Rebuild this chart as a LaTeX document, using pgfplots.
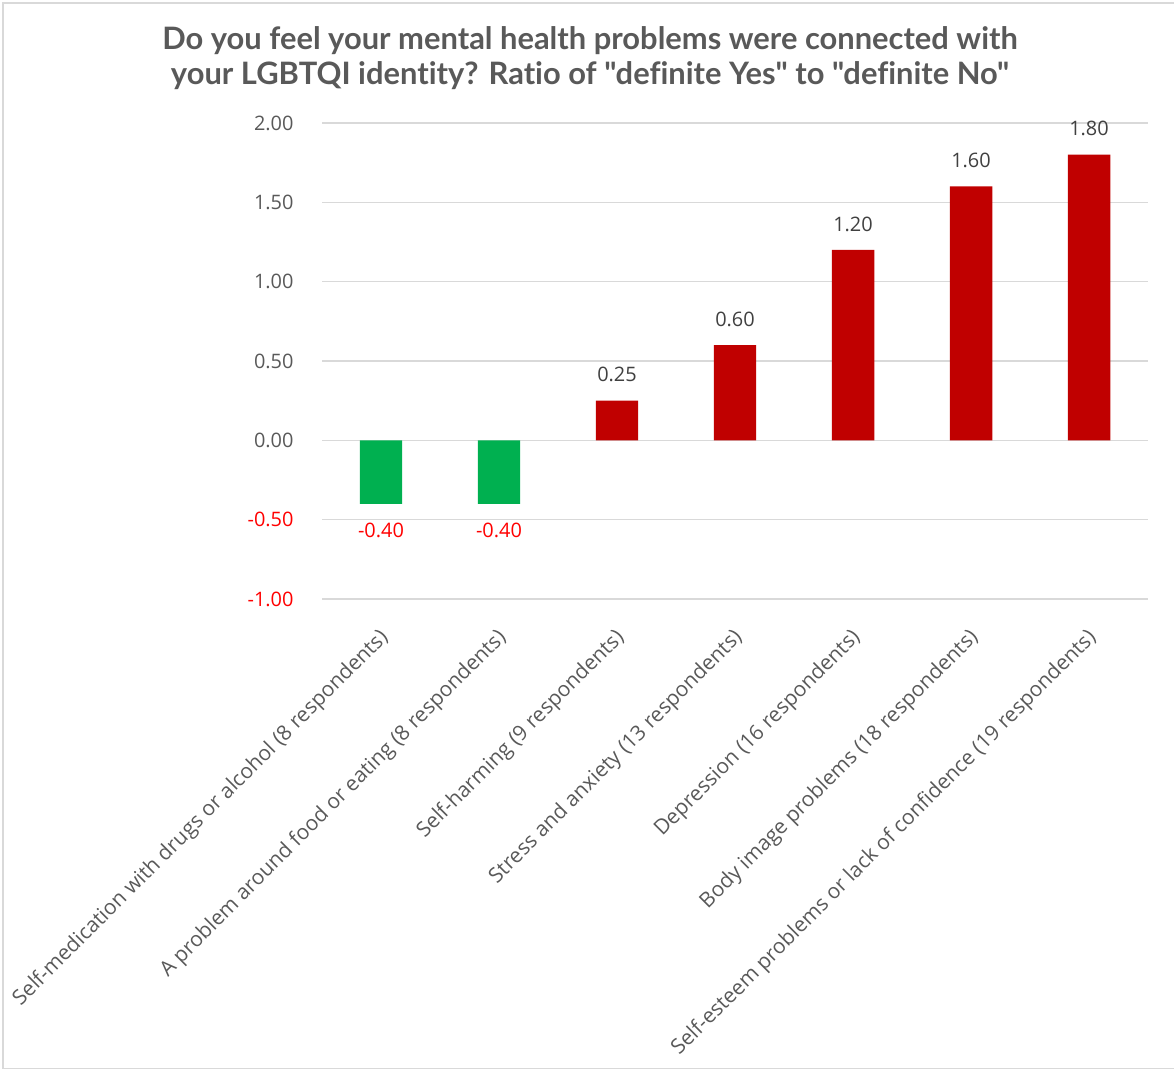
\documentclass[border=0pt]{standalone}
\usepackage{pgfplots}
\pgfplotsset{compat=1.18}
\usepackage{fontspec}
\setmainfont{Open Sans}
\newfontfamily\titlefont{Lato}[Ligatures=NoCommon]
\definecolor{txtgrey}{HTML}{595959}
\definecolor{lblgrey}{HTML}{404040}
\definecolor{barred}{HTML}{C00000}
\definecolor{bargreen}{HTML}{00B050}
\definecolor{gridgrey}{HTML}{D9D9D9}
\definecolor{negred}{HTML}{FF0000}
\begin{document}
\begin{tikzpicture}[x=1bp,y=1bp]
\useasboundingbox (0,0) rectangle (1174,1070);
\draw[color=gridgrey, line width=1.5bp] (3,1.5) rectangle (1176,1067);
\node[font=\titlefont\bfseries\fontsize{31}{35}\selectfont, text=txtgrey, align=center] at (590,1012)
 {Do you feel your mental health problems were connected with\\your LGBTQI identity? Ratio of "definite Yes" to "definite No"};
\begin{axis}[
  at={(322bp,471bp)}, anchor=south west,
  scale only axis, width=826bp, height=476bp,
  xmin=-0.5, xmax=6.5, ymin=-1, ymax=2,
  axis line style={draw=none},
  ybar, bar width=0.36, /pgf/bar shift=0pt,
  ymajorgrids, grid style={gridgrey, line width=1.5bp},
  ytick={-1,-0.5,0,0.5,1,1.5,2},
  yticklabels={\textcolor{negred}{-1.00},\textcolor{negred}{-0.50},0.00,0.50,1.00,1.50,2.00},
  yticklabel style={font=\fontsize{20}{22}\selectfont, text=txtgrey, xshift=-25bp},
  major tick length=0pt,
  xtick={0,...,6},
  xticklabels={Self-medication with drugs or alcohol (8 respondents),
    A problem around food or eating (8 respondents),
    Self-harming (9 respondents),
    Stress and anxiety (13 respondents),
    Depression (16 respondents),
    Body image problems (18 respondents),
    Self-esteem problems or lack of confidence (19 respondents)},
  xticklabel style={font=\fontsize{21}{24}\selectfont, text=txtgrey, rotate=45, anchor=east, xshift=-19bp, yshift=-28bp},
  /pgf/number format/assume math mode=true,
  nodes near coords={\pgfmathprintnumber[fixed,fixed zerofill,precision=2,assume math mode=true]{\pgfplotspointmeta}},
  clip=false,
]
\addplot[fill=bargreen, draw=none,
  nodes near coords style={font=\fontsize{20}{22}\selectfont, text=negred, anchor=center, yshift=-27bp}]
  coordinates {(0,-0.40) (1,-0.40)};
\addplot[fill=barred, draw=none,
  nodes near coords style={font=\fontsize{20}{22}\selectfont, text=lblgrey, anchor=center, yshift=26bp}]
  coordinates {(2,0.25) (3,0.60) (4,1.20) (5,1.60) (6,1.80)};
\end{axis}
\end{tikzpicture}
\end{document}
